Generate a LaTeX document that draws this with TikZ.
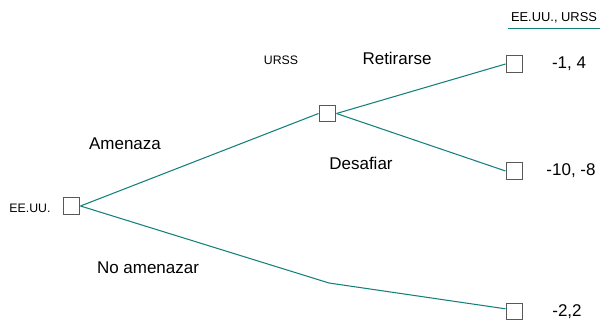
\documentclass[tikz,border=0pt]{standalone}
\usepackage{fontspec}
\setmainfont{Liberation Sans}
\definecolor{branchteal}{RGB}{20,128,122}
\begin{document}
\begin{tikzpicture}[x=0.03cm, y=-0.03cm,
  decision/.style={draw=black!65, fill=white, line width=1.1pt, minimum size=0.5cm, inner sep=0pt},
  branch/.style={draw=branchteal, line width=0.9pt},
  move/.style={font=\fontsize{14.5}{17}\selectfont},
  player/.style={font=\fontsize{10.5}{12}\selectfont},
  payoff/.style={font=\fontsize{14.5}{17}\selectfont}]

  \useasboundingbox (0,0) rectangle (603,320);

  % Decision squares
  \node[decision] (usa)      at (71.5,206)   {};
  \node[decision] (ussr)     at (327.5,113.5) {};
  \node[decision] (retire)   at (514.5,64)   {};
  \node[decision] (defy)     at (514.5,171)  {};
  \node[decision] (nothreat) at (514.5,311.5) {};

  % Bend on the lower branch
  \coordinate (bend) at (329,283);

  % Branches
  \draw[branch] (usa.east) -- (ussr.west);
  \draw[branch] (ussr.east) -- (retire.west);
  \draw[branch] (ussr.east) -- (defy.west);
  \draw[branch] (usa.east) -- (bend) -- ([yshift=0.08cm]nothreat.west);

  % Players
  \node[player] (usalabel)  at (30,208) {EE.UU.};
  \node[player] (ussrlabel) at (281,60)  {URSS};

  % Moves
  \node[move] (threat)   at (125,144) {Amenaza};
  \node[move] (noth)     at (148,268) {No amenazar};
  \node[move] (retlabel) at (397,58)  {Retirarse};
  \node[move] (deflabel) at (361,163) {Desafiar};

  % Payoffs
  \node[player, inner xsep=2pt, font=\fontsize{11}{13}\selectfont] (header) at (554,18) {EE.UU., URSS};
  \draw[branch, line width=1.2pt] ([yshift=-0.03cm]header.south west) -- ([yshift=-0.03cm]header.south east);
  \node[payoff] (pay1) at (569,64)  {-1, 4};
  \node[payoff] (pay2) at (571,171) {-10, -8};
  \node[payoff] (pay3) at (567,312) {-2,2};

\end{tikzpicture}
\end{document}
